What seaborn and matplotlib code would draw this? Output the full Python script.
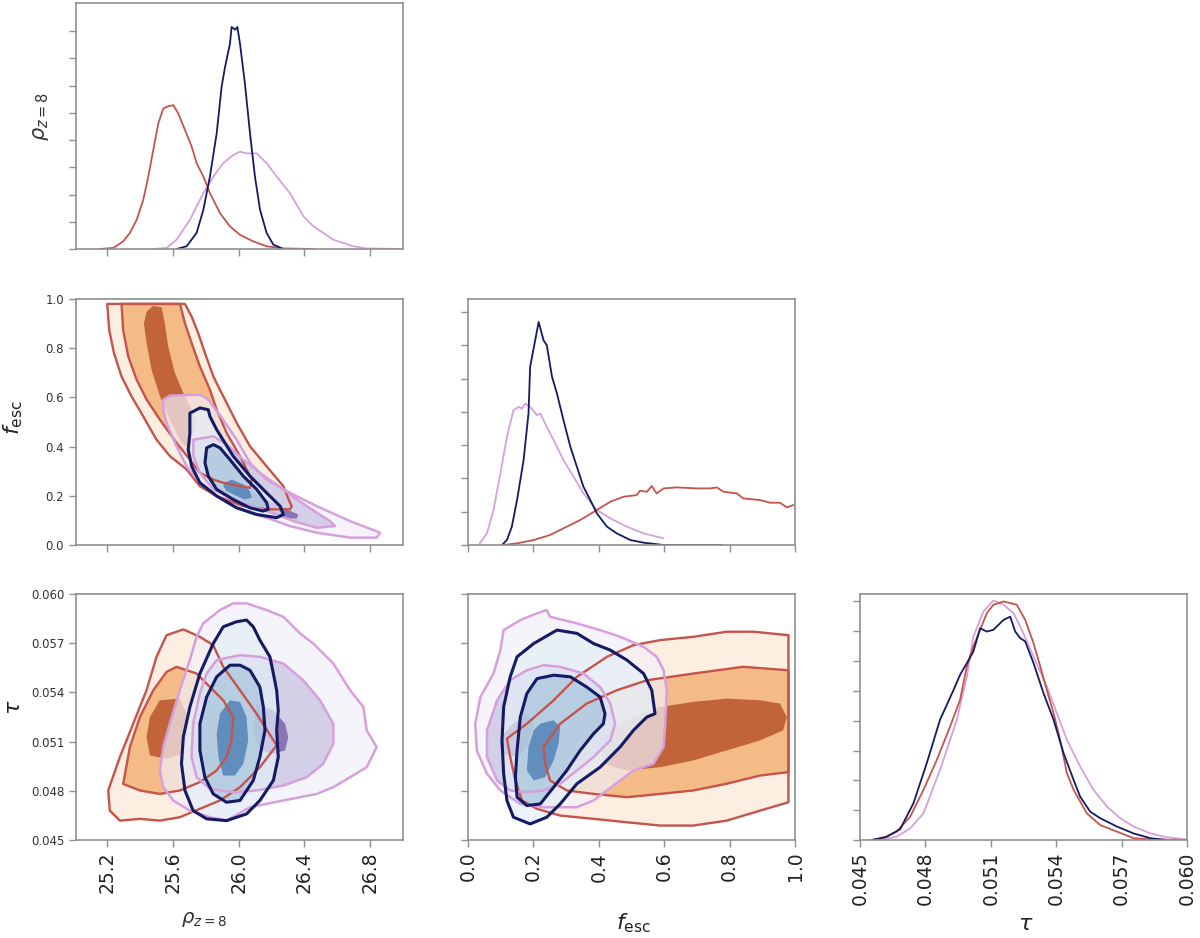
import matplotlib
matplotlib.use("Agg")
import matplotlib.pyplot as plt
import seaborn as sns

# ---------------- 1D marginals (density in tick units) ----------------
rho_red_x = [25.155, 25.237, 25.297, 25.338, 25.379, 25.419, 25.450, 25.480, 25.511, 25.541, 25.572, 25.602,
             25.632, 25.673, 25.714, 25.744, 25.785, 25.825, 25.886, 25.947, 26.008, 26.089, 26.170, 26.272, 26.455]
rho_red_y = [0, 0.04, 0.28, 0.59, 1.07, 1.80, 2.66, 3.63, 4.61, 5.16, 5.24, 5.28, 4.98, 4.37, 3.76, 3.15,
             2.66, 2.05, 1.32, 0.83, 0.52, 0.28, 0.10, 0.02, 0]
rho_blue_x = [25.622, 25.683, 25.744, 25.785, 25.825, 25.866, 25.896, 25.917, 25.947, 25.957, 25.978, 25.992,
              26.008, 26.038, 26.069, 26.099, 26.130, 26.170, 26.211, 26.272]
rho_blue_y = [0, 0.10, 0.59, 1.44, 2.66, 4.24, 5.95, 6.68, 7.54, 8.15, 8.05, 8.15, 7.54, 6.07, 4.24, 2.66,
              1.44, 0.59, 0.16, 0]
rho_pink_x = [25.480, 25.561, 25.622, 25.703, 25.785, 25.846, 25.906, 25.967, 26.008, 26.048, 26.110, 26.170,
              26.231, 26.312, 26.394, 26.455, 26.515, 26.576, 26.698, 26.779, 26.982]
rho_pink_y = [0, 0.04, 0.34, 1.07, 2.05, 2.66, 3.15, 3.45, 3.57, 3.51, 3.51, 3.15, 2.66, 2.05, 1.20, 0.83,
              0.59, 0.34, 0.10, 0.02, 0]

fesc_blue_x = [0.104, 0.119, 0.134, 0.150, 0.170, 0.185, 0.190, 0.216, 0.231, 0.241, 0.257, 0.272, 0.292,
               0.313, 0.333, 0.353, 0.374, 0.394, 0.425, 0.455, 0.496, 0.537, 0.598, 0.776]
fesc_blue_y = [0, 0.15, 0.55, 1.35, 2.55, 3.95, 5.35, 6.70, 6.15, 6.00, 5.05, 4.55, 3.75, 2.95, 2.35, 1.75,
               1.35, 0.95, 0.55, 0.35, 0.15, 0.07, 0, 0]
fesc_pink_x = [0.036, 0.058, 0.078, 0.099, 0.119, 0.139, 0.155, 0.165, 0.175, 0.190, 0.211, 0.221, 0.241,
               0.262, 0.292, 0.323, 0.353, 0.394, 0.435, 0.486, 0.537, 0.598]
fesc_pink_y = [0.05, 0.35, 1.05, 2.15, 3.25, 4.05, 4.15, 4.10, 4.25, 4.15, 3.90, 3.95, 3.55, 3.15, 2.55,
               2.05, 1.55, 1.05, 0.80, 0.55, 0.35, 0.20]
fesc_red_x = [0.109, 0.150, 0.201, 0.251, 0.302, 0.343, 0.394, 0.435, 0.476, 0.516, 0.526, 0.547, 0.562,
              0.577, 0.598, 0.638, 0.700, 0.740, 0.761, 0.781, 0.822, 0.842, 0.893, 0.924, 0.954, 0.975, 0.995]
fesc_red_y = [0, 0.05, 0.15, 0.30, 0.55, 0.75, 1.05, 1.30, 1.45, 1.50, 1.63, 1.60, 1.77, 1.55, 1.70, 1.73,
              1.70, 1.70, 1.73, 1.60, 1.55, 1.40, 1.35, 1.27, 1.27, 1.13, 1.20]

tau_red_x = [0.04554, 0.04607, 0.04668, 0.04730, 0.04791, 0.04852, 0.04913, 0.04959, 0.04990, 0.05020,
             0.05051, 0.05082, 0.05112, 0.05158, 0.05219, 0.05258, 0.05296, 0.05327, 0.05357, 0.05388,
             0.05418, 0.05449, 0.05480, 0.05541, 0.05602, 0.05679, 0.05755, 0.05832, 0.06000]
tau_red_y = [0, 0.06, 0.28, 0.78, 1.68, 2.68, 3.80, 4.70, 5.82, 6.49, 7.05, 7.61, 7.89, 8.00, 7.89, 7.38,
             6.60, 5.82, 5.03, 4.25, 3.36, 2.24, 1.68, 0.89, 0.50, 0.28, 0.06, 0.02, 0]
tau_blue_x = [0.04554, 0.04622, 0.04684, 0.04745, 0.04806, 0.04867, 0.04929, 0.04959, 0.04990, 0.05020,
              0.05051, 0.05082, 0.05112, 0.05158, 0.05189, 0.05212, 0.05235, 0.05258, 0.05296, 0.05342,
              0.05388, 0.05434, 0.05480, 0.05510, 0.05556, 0.05602, 0.05679, 0.05755, 0.05832, 0.05908]
tau_blue_y = [0, 0.11, 0.36, 1.23, 2.57, 4.03, 5.03, 5.54, 5.93, 6.32, 7.10, 6.99, 7.05, 7.38, 7.49, 6.99,
              6.77, 6.66, 5.93, 4.92, 4.03, 2.91, 2.01, 1.45, 0.95, 0.73, 0.45, 0.22, 0.06, 0]
tau_pink_x = [0.04577, 0.04668, 0.04730, 0.04791, 0.04867, 0.04944, 0.04990, 0.05020, 0.05066, 0.05112,
              0.05158, 0.05204, 0.05235, 0.05296, 0.05357, 0.05403, 0.05449, 0.05510, 0.05571, 0.05633,
              0.05694, 0.05755, 0.05832, 0.05908, 0.06000]
tau_pink_y = [0, 0.11, 0.39, 0.89, 2.35, 4.03, 5.48, 6.82, 7.66, 8.03, 7.89, 7.61, 7.16, 6.15, 5.15, 4.25,
              3.36, 2.46, 1.68, 1.12, 0.73, 0.45, 0.22, 0.09, 0.02]

# ---------------- 2D credible regions: (x, y) vertices of outer / middle / inner levels ----------------
# rho_{z=8} vs f_esc
rf_red_outer = [(25.200, 0.980), (25.212, 0.874), (25.241, 0.780), (25.287, 0.685), (25.348, 0.604),
                (25.419, 0.523), (25.500, 0.428), (25.582, 0.361), (25.683, 0.307), (25.764, 0.239),
                (25.866, 0.199), (26.028, 0.158), (26.170, 0.145), (26.312, 0.145), (26.323, 0.158),
                (26.312, 0.172), (26.272, 0.239), (26.170, 0.320), (26.069, 0.401), (25.988, 0.496),
                (25.927, 0.577), (25.886, 0.631), (25.846, 0.685), (25.795, 0.780), (25.754, 0.861),
                (25.714, 0.928), (25.673, 0.980)]
rf_red_mid = [(25.287, 0.980), (25.297, 0.874), (25.328, 0.766), (25.379, 0.672), (25.440, 0.591),
              (25.521, 0.509), (25.622, 0.415), (25.703, 0.347), (25.764, 0.293), (25.846, 0.266),
              (25.906, 0.253), (26.069, 0.232), (26.079, 0.266), (26.008, 0.361), (25.927, 0.455),
              (25.866, 0.550), (25.825, 0.631), (25.764, 0.726), (25.714, 0.820), (25.673, 0.901),
              (25.643, 0.980)]
rf_red_inner = [(25.440, 0.949), (25.480, 0.972), (25.531, 0.966), (25.551, 0.901), (25.571, 0.807),
                (25.612, 0.699), (25.663, 0.618), (25.714, 0.550), (25.744, 0.496), (25.714, 0.428),
                (25.673, 0.401), (25.643, 0.428), (25.582, 0.509), (25.521, 0.604), (25.470, 0.712),
                (25.440, 0.820), (25.423, 0.901)]
rf_pink_outer = [(25.541, 0.550), (25.541, 0.591), (25.582, 0.607), (25.764, 0.611), (25.815, 0.591),
                 (25.906, 0.509), (25.988, 0.428), (26.069, 0.334), (26.170, 0.266), (26.312, 0.212),
                 (26.475, 0.158), (26.678, 0.097), (26.861, 0.050), (26.840, 0.030), (26.678, 0.030),
                 (26.475, 0.050), (26.312, 0.077), (26.170, 0.111), (26.069, 0.131), (25.967, 0.158),
                 (25.866, 0.199), (25.764, 0.253), (25.683, 0.320), (25.622, 0.401), (25.561, 0.496)]
rf_pink_mid = [(25.724, 0.428), (25.846, 0.442), (25.927, 0.408), (26.028, 0.347), (26.130, 0.293),
               (26.272, 0.226), (26.414, 0.158), (26.556, 0.097), (26.587, 0.077), (26.475, 0.070),
               (26.333, 0.097), (26.231, 0.124), (26.110, 0.151), (25.967, 0.185), (25.846, 0.226),
               (25.764, 0.293), (25.724, 0.361)]
rf_pink_inner = [(25.988, 0.246), (26.130, 0.199), (26.272, 0.151), (26.363, 0.124), (26.353, 0.107),
                 (26.272, 0.111), (26.130, 0.145), (26.008, 0.185), (25.967, 0.219)]
rf_blue_outer = [(25.703, 0.536), (25.764, 0.557), (25.815, 0.550), (25.825, 0.523), (25.866, 0.469),
                 (25.967, 0.361), (26.069, 0.280), (26.170, 0.212), (26.252, 0.158), (26.272, 0.124),
                 (26.231, 0.111), (26.110, 0.124), (25.988, 0.151), (25.866, 0.199), (25.764, 0.253),
                 (25.714, 0.320), (25.693, 0.388), (25.703, 0.455), (25.703, 0.509)]
rf_blue_mid = [(25.805, 0.395), (25.846, 0.408), (25.886, 0.395), (25.947, 0.347), (26.028, 0.280),
               (26.110, 0.226), (26.170, 0.172), (26.180, 0.145), (26.150, 0.138), (26.069, 0.151),
               (25.967, 0.185), (25.866, 0.226), (25.815, 0.280), (25.795, 0.334)]
rf_blue_inner = [(25.917, 0.253), (25.957, 0.266), (26.028, 0.246), (26.069, 0.219), (26.079, 0.192),
                 (26.038, 0.185), (25.988, 0.199), (25.927, 0.219), (25.906, 0.239)]

# rho_{z=8} vs tau
rt_red_outer = [(25.663, 0.05784), (25.764, 0.05739), (25.845, 0.05688), (25.906, 0.05556), (26.008, 0.05413),
                (26.109, 0.05270), (26.231, 0.05077), (26.129, 0.04944), (26.008, 0.04822), (25.886, 0.04741),
                (25.764, 0.04690), (25.642, 0.04639), (25.520, 0.04618), (25.399, 0.04629), (25.277, 0.04618),
                (25.216, 0.04679), (25.206, 0.04802), (25.277, 0.05006), (25.358, 0.05209), (25.439, 0.05413),
                (25.500, 0.05617), (25.561, 0.05749)]
rt_red_mid = [(25.622, 0.05556), (25.744, 0.05515), (25.825, 0.05433), (25.906, 0.05352), (25.967, 0.05250),
              (25.957, 0.05107), (25.926, 0.05006), (25.866, 0.04924), (25.764, 0.04853), (25.642, 0.04802),
              (25.520, 0.04781), (25.399, 0.04802), (25.297, 0.04842), (25.338, 0.05067), (25.399, 0.05250),
              (25.480, 0.05413), (25.561, 0.05525)]
rt_red_inner = [(25.520, 0.05352), (25.642, 0.05362), (25.693, 0.05250), (25.683, 0.05128), (25.663, 0.05026),
                (25.561, 0.04995), (25.460, 0.05016), (25.439, 0.05128), (25.460, 0.05250)]
rt_pink_outer = [(25.784, 0.05821), (25.886, 0.05902), (25.967, 0.05943), (26.048, 0.05943), (26.170, 0.05902),
                 (26.272, 0.05861), (26.373, 0.05760), (26.454, 0.05698), (26.576, 0.05576), (26.678, 0.05413),
                 (26.759, 0.05311), (26.779, 0.05169), (26.840, 0.05067), (26.779, 0.04944), (26.678, 0.04883),
                 (26.576, 0.04822), (26.475, 0.04781), (26.272, 0.04741), (26.069, 0.04700), (25.926, 0.04618),
                 (25.825, 0.04639), (25.703, 0.04679), (25.602, 0.04741), (25.541, 0.04822), (25.520, 0.04924),
                 (25.541, 0.05067), (25.581, 0.05209), (25.642, 0.05413), (25.703, 0.05597), (25.744, 0.05739)]
rt_pink_mid = [(25.866, 0.05597), (26.008, 0.05627), (26.129, 0.05617), (26.272, 0.05576), (26.393, 0.05474),
               (26.495, 0.05352), (26.576, 0.05209), (26.576, 0.05087), (26.515, 0.04965), (26.414, 0.04883),
               (26.272, 0.04832), (26.109, 0.04802), (25.967, 0.04791), (25.825, 0.04812), (25.744, 0.04883),
               (25.713, 0.05006), (25.723, 0.05209), (25.764, 0.05393), (25.805, 0.05515)]
rt_pink_inner = [(26.109, 0.05332), (26.211, 0.05291), (26.282, 0.05209), (26.302, 0.05128), (26.282, 0.05046),
                 (26.211, 0.05026), (26.129, 0.05046), (26.089, 0.05169)]
rt_blue_outer = [(25.906, 0.05800), (25.987, 0.05831), (26.048, 0.05841), (26.089, 0.05800), (26.129, 0.05719),
                 (26.190, 0.05617), (26.211, 0.05515), (26.231, 0.05413), (26.241, 0.05291), (26.231, 0.05169),
                 (26.241, 0.05006), (26.211, 0.04863), (26.129, 0.04741), (26.048, 0.04659), (25.926, 0.04618),
                 (25.805, 0.04629), (25.723, 0.04679), (25.673, 0.04802), (25.652, 0.04965), (25.663, 0.05128),
                 (25.703, 0.05311), (25.764, 0.05515), (25.845, 0.05698)]
rt_blue_mid = [(25.947, 0.05566), (26.008, 0.05566), (26.069, 0.05535), (26.129, 0.05433), (26.150, 0.05311),
               (26.160, 0.05169), (26.129, 0.05006), (26.089, 0.04863), (26.008, 0.04741), (25.926, 0.04730),
               (25.845, 0.04781), (25.794, 0.04883), (25.764, 0.05046), (25.764, 0.05209), (25.805, 0.05372),
               (25.866, 0.05495)]
rt_blue_inner = [(25.947, 0.05352), (26.008, 0.05342), (26.048, 0.05250), (26.058, 0.05107), (26.028, 0.04965),
                 (25.977, 0.04893), (25.906, 0.04893), (25.876, 0.05006), (25.866, 0.05148), (25.886, 0.05270)]

# f_esc vs tau
ft_red_outer = [(0.119, 0.05118), (0.180, 0.05209), (0.262, 0.05352), (0.333, 0.05495), (0.425, 0.05617),
                (0.506, 0.05688), (0.588, 0.05719), (0.689, 0.05739), (0.791, 0.05770), (0.873, 0.05770),
                (0.980, 0.05749), (0.980, 0.04730), (0.893, 0.04679), (0.791, 0.04618), (0.689, 0.04588),
                (0.588, 0.04588), (0.486, 0.04608), (0.384, 0.04629), (0.282, 0.04649), (0.211, 0.04690),
                (0.165, 0.04741), (0.145, 0.04863), (0.129, 0.05006)]
ft_red_mid = [(0.231, 0.05067), (0.282, 0.05209), (0.363, 0.05332), (0.455, 0.05413), (0.547, 0.05474),
              (0.689, 0.05515), (0.842, 0.05556), (0.980, 0.05535), (0.980, 0.04914), (0.893, 0.04893),
              (0.791, 0.04843), (0.689, 0.04802), (0.588, 0.04781), (0.486, 0.04761), (0.384, 0.04781),
              (0.302, 0.04802), (0.251, 0.04863), (0.236, 0.04965)]
ft_red_inner = [(0.404, 0.05067), (0.435, 0.05169), (0.506, 0.05250), (0.588, 0.05311), (0.689, 0.05342),
                (0.791, 0.05362), (0.893, 0.05352), (0.954, 0.05332), (0.975, 0.05250), (0.964, 0.05169),
                (0.893, 0.05107), (0.791, 0.05046), (0.689, 0.04985), (0.588, 0.04944), (0.486, 0.04924),
                (0.414, 0.04965)]
ft_pink_outer = [(0.109, 0.05780), (0.160, 0.05841), (0.211, 0.05882), (0.241, 0.05902), (0.251, 0.05861),
                 (0.333, 0.05821), (0.404, 0.05780), (0.465, 0.05739), (0.537, 0.05678), (0.577, 0.05617),
                 (0.598, 0.05535), (0.608, 0.05413), (0.603, 0.05209), (0.598, 0.05067), (0.567, 0.04965),
                 (0.506, 0.04924), (0.465, 0.04863), (0.425, 0.04802), (0.384, 0.04741), (0.333, 0.04700),
                 (0.231, 0.04700), (0.160, 0.04720), (0.099, 0.04802), (0.058, 0.04904), (0.027, 0.05046),
                 (0.022, 0.05209), (0.038, 0.05372), (0.078, 0.05515), (0.099, 0.05658)]
ft_pink_mid = [(0.180, 0.05535), (0.231, 0.05566), (0.282, 0.05556), (0.353, 0.05515), (0.404, 0.05433),
               (0.435, 0.05332), (0.450, 0.05209), (0.435, 0.05107), (0.384, 0.05006), (0.333, 0.04924),
               (0.282, 0.04843), (0.231, 0.04802), (0.180, 0.04791), (0.129, 0.04802), (0.089, 0.04863),
               (0.058, 0.05006), (0.058, 0.05169), (0.089, 0.05352), (0.129, 0.05474)]
ft_pink_inner = [(0.109, 0.05148), (0.139, 0.05209), (0.180, 0.05270), (0.201, 0.05209), (0.180, 0.05067),
                 (0.150, 0.05006), (0.109, 0.05026), (0.099, 0.05087)]
ft_blue_outer = [(0.150, 0.05617), (0.201, 0.05698), (0.272, 0.05780), (0.333, 0.05760), (0.384, 0.05698),
                 (0.435, 0.05658), (0.486, 0.05597), (0.537, 0.05515), (0.562, 0.05413), (0.572, 0.05270),
                 (0.547, 0.05250), (0.506, 0.05169), (0.465, 0.05067), (0.404, 0.04944), (0.333, 0.04843),
                 (0.282, 0.04720), (0.241, 0.04639), (0.190, 0.04598), (0.139, 0.04639), (0.119, 0.04741),
                 (0.109, 0.04904), (0.104, 0.05107), (0.109, 0.05311), (0.129, 0.05495)]
ft_blue_mid = [(0.211, 0.05484), (0.262, 0.05505), (0.313, 0.05495), (0.363, 0.05433), (0.404, 0.05372),
               (0.419, 0.05270), (0.414, 0.05209), (0.384, 0.05148), (0.343, 0.05046), (0.302, 0.04924),
               (0.262, 0.04822), (0.221, 0.04720), (0.180, 0.04710), (0.150, 0.04761), (0.145, 0.04883),
               (0.150, 0.05046), (0.160, 0.05250), (0.180, 0.05393)]
ft_blue_inner = [(0.221, 0.05209), (0.262, 0.05230), (0.282, 0.05189), (0.277, 0.05087), (0.262, 0.04985),
                 (0.236, 0.04883), (0.201, 0.04863), (0.180, 0.04924), (0.185, 0.05067), (0.201, 0.05169)]

rho_ticks = [25.2, 25.6, 26.0, 26.4, 26.8]
fesc_ticks = [0.0, 0.2, 0.4, 0.6, 0.8, 1.0]
tau_ticks = [0.045, 0.048, 0.051, 0.054, 0.057, 0.060]

# ---------------- style ----------------
sns.set_style("ticks")
plt.rcParams['font.family'] = ['DejaVu Sans']

RED, NAVY, PLUM = "#c4544c", "#141b62", "#d6a0dc"
RED_FILLS = ["#fdeee2", "#f4bb86", "#c2643a"]
PINK_FILLS = ["#f2f0f9", "#c4c0de", "#6a4f9f"]
BLUE_FILLS = ["#e4edf7", "#a6c4dc", "#3f74b0"]
SPINE = "#8f8f8f"

fig = plt.figure(figsize=(12, 9.38), dpi=100)
W, H = 327 / 1200, 246 / 938
lefts = [76 / 1200, 468 / 1200, 860 / 1200]
bottoms = [1 - 249 / 938, 1 - 545 / 938, 1 - 840 / 938]


def make_ax(row, col):
    ax = fig.add_axes([lefts[col], bottoms[row], W, H])
    for s in ax.spines.values():
        s.set_color(SPINE)
        s.set_linewidth(1.2)
    ax.tick_params(direction="out", length=5, width=1, color=SPINE, labelcolor="#333333")
    return ax


def draw_2d(ax, sets):
    # fills first (red, pink, blue), then outlines on top
    for levels, fills, alpha, _, _ in sets:
        for poly, c in zip(levels, fills):
            xs, ys = zip(*poly)
            ax.fill(xs, ys, color=c, alpha=alpha, lw=0)
    for levels, _, _, lc, lw in sets:
        for poly in levels[:2]:
            xs, ys = zip(*poly)
            ax.fill(xs, ys, facecolor="none", edgecolor=lc, lw=lw, joinstyle="round")


def draw_1d(ax, curves):
    for xs, ys, c in curves:
        sns.lineplot(x=xs, y=ys, ax=ax, color=c, linewidth=1.3, sort=False, estimator=None)


# top-left: rho marginal
ax = make_ax(0, 0)
draw_1d(ax, [(rho_red_x, rho_red_y, RED), (rho_pink_x, rho_pink_y, PLUM), (rho_blue_x, rho_blue_y, NAVY)])
ax.set_xlim(25.01, 27.0)
ax.set_ylim(0, 9.03)
ax.set_xticks(rho_ticks)
ax.set_xticklabels([])
ax.set_yticks(range(9))
ax.set_yticklabels([])
ax.set_ylabel(r"$\rho_{z=8}$", fontsize=15, color="#333333")
ax.yaxis.set_label_coords(-0.075, 0.54)

# middle-left: rho vs f_esc
ax = make_ax(1, 0)
draw_2d(ax, [([rf_red_outer, rf_red_mid, rf_red_inner], RED_FILLS, 1.0, RED, 1.7),
             ([rf_pink_outer, rf_pink_mid, rf_pink_inner], PINK_FILLS, 0.7, PLUM, 1.8),
             ([rf_blue_outer, rf_blue_mid, rf_blue_inner], BLUE_FILLS, 0.7, NAVY, 2.2)])
ax.set_xlim(25.01, 27.0)
ax.set_ylim(0, 1.0)
ax.set_xticks(rho_ticks)
ax.set_xticklabels([])
ax.set_yticks(fesc_ticks)
ax.set_yticklabels([f"{t:.1f}" for t in fesc_ticks], fontsize=8.5)
ax.set_ylabel(r"$f_{\rm esc}$", fontsize=16, color="#222222")
ax.yaxis.set_label_coords(-0.155, 0.52)

# middle: f_esc marginal
ax = make_ax(1, 1)
draw_1d(ax, [(fesc_pink_x, fesc_pink_y, PLUM), (fesc_red_x, fesc_red_y, RED), (fesc_blue_x, fesc_blue_y, NAVY)])
ax.set_xlim(0, 1.0)
ax.set_ylim(0, 7.39)
ax.set_xticks(fesc_ticks)
ax.set_xticklabels([])
ax.set_yticks(range(8))
ax.set_yticklabels([])

# bottom-left: rho vs tau
ax = make_ax(2, 0)
draw_2d(ax, [([rt_red_outer, rt_red_mid, rt_red_inner], RED_FILLS, 1.0, RED, 1.7),
             ([rt_pink_outer, rt_pink_mid, rt_pink_inner], PINK_FILLS, 0.7, PLUM, 1.8),
             ([rt_blue_outer, rt_blue_mid, rt_blue_inner], BLUE_FILLS, 0.7, NAVY, 2.2)])
ax.set_xlim(25.01, 27.0)
ax.set_ylim(0.045, 0.060)
ax.set_xticks(rho_ticks)
ax.set_xticklabels([f"{t:.1f}" for t in rho_ticks], rotation=90, fontsize=13.5, color="#222222")
ax.set_yticks(tau_ticks)
ax.set_yticklabels([f"{t:.3f}" for t in tau_ticks], fontsize=8.5)
ax.set_ylabel(r"$\tau$", fontsize=16, color="#222222")
ax.yaxis.set_label_coords(-0.16, 0.54)
ax.set_xlabel(r"$\rho_{z=8}$", fontsize=14, color="#333333")
ax.xaxis.set_label_coords(0.39, -0.285)

# bottom-middle: f_esc vs tau
ax = make_ax(2, 1)
draw_2d(ax, [([ft_red_outer, ft_red_mid, ft_red_inner], RED_FILLS, 1.0, RED, 1.7),
             ([ft_pink_outer, ft_pink_mid, ft_pink_inner], PINK_FILLS, 0.7, PLUM, 1.8),
             ([ft_blue_outer, ft_blue_mid, ft_blue_inner], BLUE_FILLS, 0.7, NAVY, 2.2)])
ax.set_xlim(0, 1.0)
ax.set_ylim(0.045, 0.060)
ax.set_xticks(fesc_ticks)
ax.set_xticklabels([f"{t:.1f}" for t in fesc_ticks], rotation=90, fontsize=13.5, color="#222222")
ax.set_yticks(tau_ticks)
ax.set_yticklabels([])
ax.set_xlabel(r"$f_{\rm esc}$", fontsize=16, color="#222222")
ax.xaxis.set_label_coords(0.505, -0.29)

# bottom-right: tau marginal
ax = make_ax(2, 2)
draw_1d(ax, [(tau_pink_x, tau_pink_y, PLUM), (tau_red_x, tau_red_y, RED), (tau_blue_x, tau_blue_y, NAVY)])
ax.set_xlim(0.045, 0.060)
ax.set_ylim(0, 8.25)
ax.set_xticks(tau_ticks)
ax.set_xticklabels([f"{t:.3f}" for t in tau_ticks], rotation=90, fontsize=13.5, color="#222222")
ax.set_yticks(range(9))
ax.set_yticklabels([])
ax.set_xlabel(r"$\tau$", fontsize=16, color="#222222")
ax.xaxis.set_label_coords(0.508, -0.3)

fig.savefig("out.png", dpi=100)
